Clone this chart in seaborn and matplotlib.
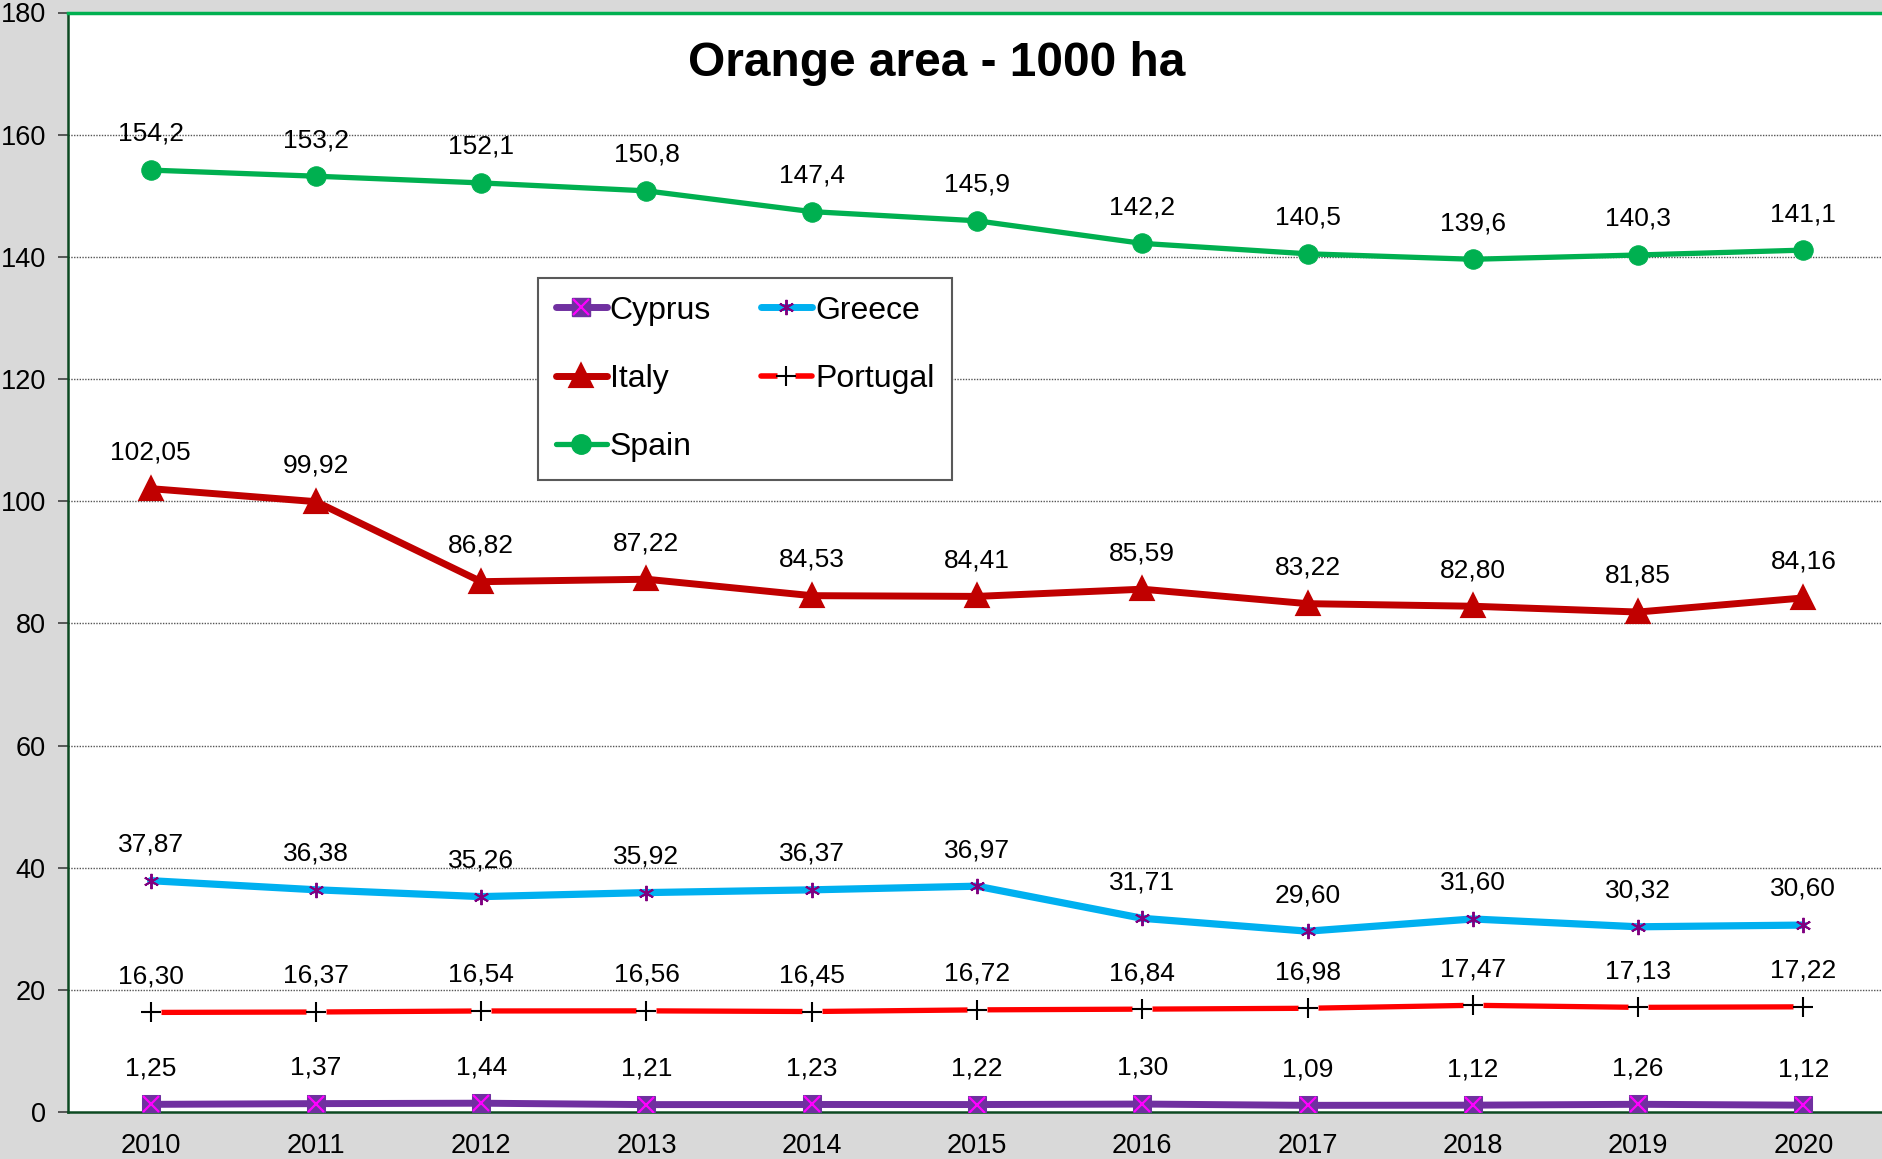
import matplotlib
matplotlib.use("Agg")
import matplotlib.pyplot as plt
from matplotlib.lines import Line2D
from matplotlib.legend_handler import HandlerTuple
import seaborn as sns
import pandas as pd
import numpy as np

years = ["2010", "2011", "2012", "2013", "2014", "2015", "2016", "2017", "2018", "2019", "2020"]
cyprus = [1.25, 1.37, 1.44, 1.21, 1.23, 1.22, 1.30, 1.09, 1.12, 1.26, 1.12]
greece = [37.87, 36.38, 35.26, 35.92, 36.37, 36.97, 31.71, 29.60, 31.60, 30.32, 30.60]
italy = [102.05, 99.92, 86.82, 87.22, 84.53, 84.41, 85.59, 83.22, 82.80, 81.85, 84.16]
portugal = [16.30, 16.37, 16.54, 16.56, 16.45, 16.72, 16.84, 16.98, 17.47, 17.13, 17.22]
spain = [154.2, 153.2, 152.1, 150.8, 147.4, 145.9, 142.2, 140.5, 139.6, 140.3, 141.1]
title = "Orange area - 1000 ha"

sns.set_style("white")
plt.rcParams["font.family"] = ["Liberation Sans", "DejaVu Sans"]
plt.rcParams["text.color"] = "black"
plt.rcParams["xtick.color"] = "black"
plt.rcParams["ytick.color"] = "black"

W, H = 1882, 1159
fig = plt.figure(figsize=(W / 100, H / 100), dpi=100, facecolor="#d9d9d9")
ax = fig.add_axes([68 / W, (H - 1112) / H, 1818 / W, 1099.5 / H])
ax.set_facecolor("white")

x = np.arange(len(years))
series = [
    ("Cyprus", cyprus, 2),
    ("Greece", greece, 2),
    ("Italy", italy, 2),
    ("Portugal", portugal, 2),
    ("Spain", spain, 1),
]
df = pd.concat(
    [pd.DataFrame({"x": x, "value": vals, "country": name}) for name, vals, _ in series],
    ignore_index=True,
)

def sub(name):
    return df[df["country"] == name]

ax.set_ylim(0, 180)
ax.set_xlim(-0.5, len(years) - 0.5)
ax.set_yticks(np.arange(0, 181, 20))
for yv in range(20, 180, 20):
    ax.axhline(yv, color="#555555", lw=1.0, ls=(0, (1, 1)), zorder=0)

# Cyprus
sns.lineplot(data=sub("Cyprus"), x="x", y="value", ax=ax, color="#7030a0", lw=5.0,
             marker="s", markersize=13, markerfacecolor="#7030a0", markeredgecolor="#7030a0",
             zorder=3, legend=False)
ax.plot(x, cyprus, ls="none", marker="x", markersize=11, mec="#ff00ff", mew=1.6, zorder=4)
# Greece
sns.lineplot(data=sub("Greece"), x="x", y="value", ax=ax, color="#00b0f0", lw=5.2,
             zorder=3, legend=False)
ax.plot(x, greece, ls="none", marker=(6, 2, 0), markersize=11, mec="#800080", mew=1.4, zorder=4)
# Italy
sns.lineplot(data=sub("Italy"), x="x", y="value", ax=ax, color="#c00000", lw=5.0,
             marker="^", markersize=14, markerfacecolor="#c00000", markeredgecolor="#c00000",
             markeredgewidth=3, zorder=3, legend=False)
# Portugal
sns.lineplot(data=sub("Portugal"), x="x", y="value", ax=ax, color="#ff0000", lw=3.8,
             zorder=3, legend=False)
ax.plot(x, portugal, ls="none", marker="s", markersize=14, mfc="white", mec="none", zorder=4)
ax.plot(x, portugal, ls="none", marker="+", markersize=14, mec="black", mew=1.5, zorder=5)
# Spain
sns.lineplot(data=sub("Spain"), x="x", y="value", ax=ax, color="#00b050", lw=3.8,
             marker="o", markersize=14, markerfacecolor="#00b050", markeredgecolor="#00b050",
             zorder=3, legend=False)

# data labels
for name, vals, dec in series:
    for xi, v in zip(x, vals):
        ax.annotate(f"{v:.{dec}f}".replace(".", ","), (xi, v), xytext=(0, 26),
                    textcoords="offset points", ha="center", va="center",
                    fontsize=19, color="black", zorder=6)

ax.set_xlabel("")
ax.set_ylabel("")
ax.set_xticks(x)
ax.set_xticklabels(years)
ax.set_xticks(np.arange(-0.5, len(years), 1), minor=True)
ax.tick_params(axis="x", which="major", length=0, pad=15, labelsize=19.5, labelcolor="black")
ax.tick_params(axis="x", which="minor", length=6, width=1.2, color="#404040", direction="out")
ax.tick_params(axis="y", which="major", length=7, width=1.2, color="#404040", direction="out",
               pad=9, labelsize=19.5, left=True, labelcolor="black")
for s in ["left", "bottom"]:
    ax.spines[s].set_color("#0d4a22")
    ax.spines[s].set_linewidth(1.8)
ax.spines["top"].set_color("#00b050")
ax.spines["top"].set_linewidth(2.5)
ax.spines["right"].set_visible(False)

# legend
h_cy = (Line2D([], [], color="#7030a0", lw=5, solid_capstyle="round"),
        Line2D([], [], ls="none", marker="s", ms=13, mfc="#7030a0", mec="#7030a0"),
        Line2D([], [], ls="none", marker="x", ms=11, mec="#ff00ff", mew=1.6))
h_gr = (Line2D([], [], color="#00b0f0", lw=5, solid_capstyle="round"),
        Line2D([], [], ls="none", marker=(6, 2, 0), ms=11, mec="#800080", mew=1.4))
h_it = (Line2D([], [], color="#c00000", lw=5, solid_capstyle="round"),
        Line2D([], [], ls="none", marker="^", ms=14, mfc="#c00000", mec="#c00000", mew=3))
h_pt = (Line2D([], [], color="#ff0000", lw=4, solid_capstyle="round"),
        Line2D([], [], ls="none", marker="s", ms=13, mfc="white", mec="none"),
        Line2D([], [], ls="none", marker="+", ms=14, mec="black", mew=1.5))
h_sp = (Line2D([], [], color="#00b050", lw=3.8, solid_capstyle="round"),
        Line2D([], [], ls="none", marker="o", ms=14, mfc="#00b050", mec="#00b050"))
leg = ax.legend([h_cy, h_it, h_sp, h_gr, h_pt], ["Cyprus", "Italy", "Spain", "Greece", "Portugal"],
                ncol=2, loc="upper left", bbox_to_anchor=(0.2585, 0.7585), borderaxespad=0,
                fontsize=23, frameon=True, fancybox=False, framealpha=1,
                handlelength=1.6, handletextpad=0.1, columnspacing=1.55, labelspacing=1.2,
                borderpad=0.55, handler_map={tuple: HandlerTuple(ndivide=1, pad=0)})
leg.get_frame().set_edgecolor("#595959")
leg.get_frame().set_linewidth(1.5)
leg.set_zorder(7)

fig.text(937 / W, 1 - 64 / H, title, ha="center", va="center", fontsize=34.5,
         fontweight="bold", color="black")

fig.savefig("out.png", dpi=100, facecolor=fig.get_facecolor())
